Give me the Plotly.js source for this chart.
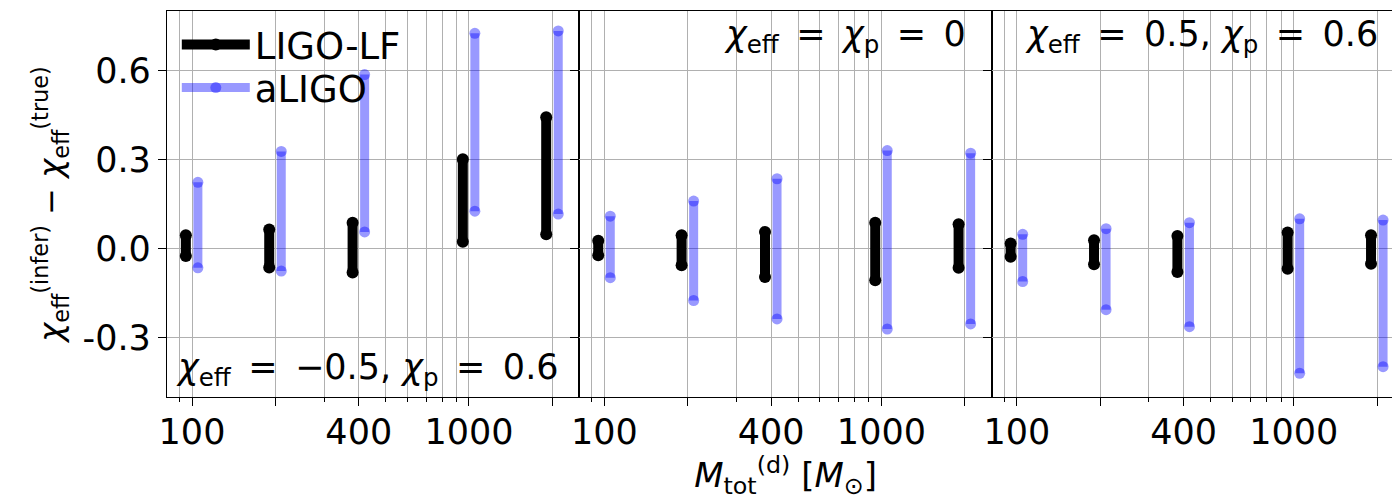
<!DOCTYPE html>
<html>
<head>
<meta charset="utf-8">
<script src="https://cdn.plot.ly/plotly-3.0.1.min.js"></script>
<style>html,body{margin:0;padding:0;background:#fff;}#plot{width:1392px;height:500px;}</style>
</head>
<body>
<div id="plot"></div>
<script>
// ---- data ----
const masses = [100, 200, 400, 1000, 2000];
const tickValsX = [100, 200, 400, 1000, 2000];
const tickTextX = ['100', '', '400', '1000', ''];
const minorTickValsX = [90, 300, 500, 600, 700, 800, 900];
const tickValsY = [-0.3, 0.0, 0.3, 0.6];
const tickTextY = ['-0.3', '0.0', '0.3', '0.6'];
const seriesNames = ['LIGO-LF', 'aLIGO'];
const panelLabels = [
  '<i>χ</i><sub>eff</sub>\u2002=\u2002−0.5, <i>χ</i><sub>p</sub>\u2002=\u20020.6',
  '<i>χ</i><sub>eff</sub>\u2002=\u2002<i>χ</i><sub>p</sub>\u2002=\u20020',
  '<i>χ</i><sub>eff</sub>\u2002=\u20020.5, <i>χ</i><sub>p</sub>\u2002=\u20020.6'
];
// panel 1: chi_eff = -0.5, chi_p = 0.6
const lf1Low  = [-0.025, -0.064, -0.081, 0.023, 0.048];
const lf1High = [0.045, 0.064, 0.087, 0.301, 0.442];
const al1Low  = [-0.065, -0.076, 0.056, 0.126, 0.116];
const al1High = [0.223, 0.327, 0.586, 0.725, 0.733];
// panel 2: chi_eff = chi_p = 0
const lf2Low  = [-0.023, -0.056, -0.096, -0.107, -0.065];
const lf2High = [0.026, 0.045, 0.056, 0.087, 0.082];
const al2Low  = [-0.098, -0.175, -0.237, -0.271, -0.254];
const al2High = [0.109, 0.160, 0.235, 0.330, 0.321];
// panel 3: chi_eff = 0.5, chi_p = 0.6
const lf3Low  = [-0.028, -0.053, -0.079, -0.068, -0.051];
const lf3High = [0.017, 0.028, 0.042, 0.054, 0.045];
const al3Low  = [-0.111, -0.206, -0.263, -0.420, -0.398];
const al3High = [0.048, 0.067, 0.087, 0.100, 0.096];

// ---- drawing ----
const FONT = 'DejaVu Sans, Liberation Sans, sans-serif';
const DODGE = [0.95, 1.05];
function segs(xs, f, lo, hi) {
  const x = [], y = [];
  xs.forEach((m, i) => { x.push(m * f, m * f, null); y.push(lo[i], hi[i], null); });
  return {x, y};
}
const panels = [
  [lf1Low, lf1High, al1Low, al1High],
  [lf2Low, lf2High, al2Low, al2High],
  [lf3Low, lf3High, al3Low, al3High]
];
const traces = [];
panels.forEach((p, k) => {
  const ax = k === 0 ? '' : String(k + 1);
  const a = segs(masses, DODGE[0], p[0], p[1]);
  traces.push({x: a.x, y: a.y, xaxis: 'x' + ax, yaxis: 'y' + ax, mode: 'lines+markers',
    name: seriesNames[0], showlegend: k === 0, legend: 'legend', connectgaps: false,
    line: {color: '#000', width: 10}, marker: {color: '#000', size: 12}, hoverinfo: 'skip'});
  const b = segs(masses, DODGE[1], p[2], p[3]);
  traces.push({x: b.x, y: b.y, xaxis: 'x' + ax, yaxis: 'y' + ax, mode: 'lines+markers',
    name: seriesNames[1], showlegend: k === 0, legend: 'legend2', connectgaps: false,
    line: {color: 'rgba(0,0,255,0.4)', width: 9}, marker: {color: 'rgba(0,0,255,0.4)', size: 11}, hoverinfo: 'skip'});
});

const W = 1225;
const d1 = 412.4 / W, d2 = 2 * 412.4 / W;
const xr = [1.9097, 3.3986];
const xr3 = [1.9097, 1.9097 + (1 - d2) * W / 277.0];
const GRID = '#b0b0b0';
const TICKFONT = {family: FONT, size: 35, color: '#000'};
function xaxis(dom, rng, title) {
  const o = {type: 'log', domain: dom, range: rng, tickmode: 'array', tickvals: tickValsX, ticktext: tickTextX,
    ticks: 'outside', ticklen: 8, tickwidth: 1.3, tickcolor: '#000', ticklabelstandoff: -4,
    showgrid: true, gridcolor: GRID, gridwidth: 1.3, zeroline: false,
    showline: true, linecolor: '#000', linewidth: 1.2, mirror: true,
    tickfont: TICKFONT,
    minor: {tickmode: 'array', tickvals: minorTickValsX, ticks: 'outside', ticklen: 4, tickwidth: 1, tickcolor: '#000',
      showgrid: true, gridcolor: GRID, gridwidth: 1.3}};
  if (title) o.title = {text: title, font: {family: FONT, size: 34, color: '#000'}, standoff: 4};
  return o;
}
function yaxis(showLabels, mirror, title) {
  const o = {range: [-0.5, 0.8], tickmode: 'array', tickvals: tickValsY, ticktext: tickTextY,
    showticklabels: showLabels, ticks: 'outside', ticklen: 8, tickwidth: 1.3, tickcolor: '#000',
    showgrid: true, gridcolor: GRID, gridwidth: 1.3, zeroline: false,
    showline: true, linecolor: '#000', linewidth: 1.2, mirror: mirror,
    tickfont: TICKFONT};
  if (title) o.title = {text: title, font: {family: FONT, size: 32, color: '#000'}, standoff: 10};
  return o;
}
const legendBase = {xanchor: 'left', yanchor: 'middle', bgcolor: 'rgba(0,0,0,0)',
  font: {family: FONT, size: 37, color: '#000'}, itemwidth: 68};
const layout = {
  width: 1392, height: 500, autosize: false,
  margin: {l: 167, r: 0, t: 11, b: 103, pad: 0},
  paper_bgcolor: '#fff', plot_bgcolor: '#fff',
  font: {family: FONT, color: '#000'},
  xaxis: xaxis([0, d1], xr),
  xaxis2: xaxis([d1, d2], xr, '<i>M</i><sub>tot</sub><sup>(d)</sup> [<i>M</i><sub>⊙</sub>]'),
  xaxis3: xaxis([d2, 1], xr3),
  yaxis: yaxis(true, 'ticks', '<i>χ</i><sub>eff</sub><sup>(infer)</sup> − <i>χ</i><sub>eff</sub><sup>(true)</sup>'),
  yaxis2: Object.assign(yaxis(false, 'ticks'), {anchor: 'x2', matches: 'y'}),
  yaxis3: Object.assign(yaxis(false, false), {anchor: 'x3', matches: 'y'}),
  showlegend: true,
  legend: Object.assign({x: 0.008, y: (397 - 45) / 386}, legendBase),
  legend2: Object.assign({x: 0.008, y: (397 - 88) / 386}, legendBase),
  annotations: [
    {xref: 'x domain', yref: 'y domain', x: 0.018, y: 0.07, xanchor: 'left', yanchor: 'middle',
      text: panelLabels[0], showarrow: false, font: {family: FONT, size: 35, color: '#000'}},
    {xref: 'x2 domain', yref: 'y2 domain', x: 0.943, y: 0.935, xanchor: 'right', yanchor: 'middle',
      text: panelLabels[1], showarrow: false, font: {family: FONT, size: 35, color: '#000'}},
    {xref: 'paper', yref: 'paper', x: (1380 - 167) / W, y: 0.935, xanchor: 'right', yanchor: 'middle',
      text: panelLabels[2], showarrow: false, font: {family: FONT, size: 35, color: '#000'}}
  ]
};
layout.xaxis2.anchor = 'y2';
layout.xaxis3.anchor = 'y3';
Plotly.newPlot('plot', traces, layout, {displayModeBar: false});
</script>
</body>
</html>
